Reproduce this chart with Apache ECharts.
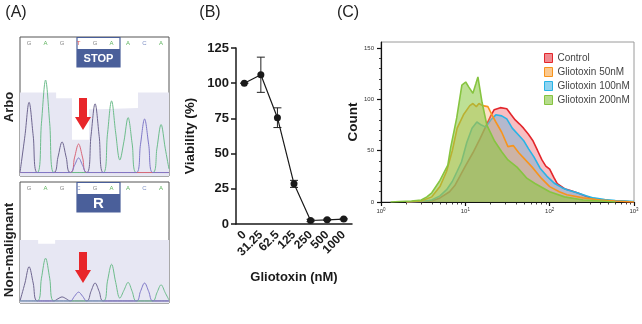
<!DOCTYPE html>
<html>
<head>
<meta charset="utf-8">
<script src="https://cdn.jsdelivr.net/npm/echarts@6/dist/echarts.min.js"></script>
<style>
  html, body { margin: 0; padding: 0; background: #fff; }
  #chart { width: 642px; height: 324px; }
</style>
</head>
<body>
<div id="chart"></div>
<script>
// ---------- panel A : sequencing traces (x = base index, y = signal) ----------
const topBases = ['G', 'A', 'G', 'T', 'G', 'A', 'A', 'C', 'A'];
const bottomBases = ['G', 'A', 'G', 'C', 'G', 'A', 'A', 'C', 'A'];
const baseColors = { G: '#8a8a8a', A: '#5fb35f', T: '#e05a5a', C: '#7d8fc4' };
const traceColors = { G: '#6e6690', A: '#6dbd8c', T: '#d9677a', C: '#7f78c8' };

const topQuality = [[-0.55, 60], [1.64, 56], [2.6, 26], [3.64, 48], [4.3, 49], [6.6, 60], [8.48, 60]];
const topG = [[-0.55, 2.5], [-0.25, 29], [0, 53], [0.25, 29], [0.5, 2.5], [1.5, 2.5], [1.75, 13.5], [2, 24.5], [2.25, 13.5], [2.5, 2.5], [3.5, 2.5], [3.75, 28.5], [4, 52], [4.25, 28.5], [4.5, 2.5], [8.48, 2.5]];
const topA = [[-0.55, 2.5], [0.5, 2.5], [0.75, 38], [1, 69], [1.25, 38], [1.5, 2.5], [4.5, 2.5], [4.75, 30], [5, 54], [5.25, 31], [5.5, 11.5], [5.75, 25], [6, 42], [6.25, 23], [6.5, 2.5], [7.5, 2.5], [7.75, 20], [8, 37], [8.25, 20], [8.48, 5]];
const topT = [[-0.55, 2.5], [2.5, 2.5], [2.75, 13], [3, 23], [3.25, 13], [3.5, 2.5], [8.48, 2.5]];
const topC = [[-0.55, 2.5], [2.5, 2.5], [2.75, 7.5], [3, 13], [3.25, 7.5], [3.5, 2.5], [6.5, 2.5], [6.75, 22.5], [7, 41], [7.25, 22.5], [7.5, 2.5], [8.48, 2.5]];

const bottomQuality = [[-0.55, 52], [0.55, 49], [1.58, 52], [8.48, 52]];
const bottomG = [[-0.55, 1.7], [-0.25, 16.5], [0, 30], [0.25, 16.5], [0.5, 1.7], [1.5, 1.7], [1.75, 3.5], [2, 5], [2.25, 3.5], [2.5, 1.7], [3.5, 1.7], [3.75, 9.5], [4, 16.5], [4.25, 9.5], [4.5, 1.7], [8.48, 1.7]];
const bottomA = [[-0.55, 1.7], [0.5, 1.7], [0.75, 20.5], [1, 37], [1.25, 20.5], [1.5, 1.7], [4.5, 1.7], [4.75, 18], [5, 32], [5.25, 17], [5.5, 4], [5.75, 10.5], [6, 17], [6.25, 9.5], [6.5, 1.7], [7.5, 1.7], [7.75, 8.5], [8, 15], [8.25, 8.5], [8.48, 2.5]];
const bottomC = [[-0.55, 1.7], [2.5, 1.7], [2.75, 5.5], [3, 9], [3.25, 5.5], [3.5, 1.7], [6.5, 1.7], [6.75, 9.5], [7, 16.5], [7.25, 9.5], [7.5, 1.7], [8.48, 1.7]];

// ---------- panel B : viability ----------
const doses = ['0', '31.25', '62.5', '125', '250', '500', '1000'];
const viability = [100, 106, 75.5, 28.5, 2.5, 3, 3.5];
const viabilityErr = [0, 12.5, 7, 2.5, 0.8, 0.5, 0.5];
const viabilityTicks = [0, 25, 50, 75, 100, 125];

// ---------- panel C : flow histograms (x = fluorescence, y = count) ----------
const control = [[2, 0], [3, 0.5], [4, 1], [5, 4], [6.5, 10], [7.5, 16], [8.6, 25], [10, 35], [12.3, 48], [15, 62], [18, 76], [20, 84], [22, 90], [26, 92], [31, 91], [35, 85], [39, 80], [44, 76], [49, 72], [56, 66], [63, 60], [72, 50], [81, 41], [90, 35], [100, 32], [112, 24], [123, 18], [150, 13], [180, 11], [212, 9], [260, 6], [330, 3], [450, 1.5], [650, 1], [1000, 0]];
const glio50 = [[2, 0], [3, 1], [4, 5], [5, 15], [6, 30], [7, 50], [8, 72], [9.5, 85], [11.3, 94], [12.3, 96], [13.5, 93], [14.5, 96], [16, 94], [18.5, 93], [20.7, 85], [23, 78], [27, 68], [32, 54], [37, 55], [43, 48], [49, 43], [62, 34], [80, 23], [100, 15], [130, 10], [160, 7], [250, 4], [400, 2], [600, 1], [1000, 0]];
const glio100 = [[2, 0], [3, 0.5], [4, 2], [5, 6], [6, 12], [7, 20], [8, 30], [9, 39], [10.4, 58], [12, 72], [13.7, 78], [15.5, 75], [17.5, 73], [20, 80], [23, 85], [27, 84], [31, 81], [36, 72], [42, 66], [49, 60], [56, 52], [65, 44], [77, 33], [93, 25], [115, 18], [140, 14], [160, 12], [212, 9], [270, 6], [330, 4], [450, 2.5], [600, 1.5], [800, 1], [1000, 0.5]];
const glio200 = [[1.3, 0], [1.66, 0.5], [2.3, 1], [3, 2], [3.5, 5], [4, 9], [5, 21], [6.2, 36], [6.7, 53], [7.9, 82], [9.1, 114], [10.1, 117], [11, 112], [12.3, 106], [13.3, 115], [14.1, 122], [15.8, 97], [18, 75], [22, 60], [27, 49], [32, 41], [41, 34], [54, 23], [67, 18], [100, 10], [150, 5], [250, 2], [400, 1], [600, 0]];
const countTicks = [0, 50, 100, 150];
const countMinorTicks = [10, 20, 30, 40, 60, 70, 80, 90, 110, 120, 130, 140];
const decadeTicks = [0, 1, 2, 3];
const minorFluor = [2, 3, 4, 5, 6, 7, 8, 9, 20, 30, 40, 50, 60, 70, 80, 90, 200, 300, 400, 500, 600, 700, 800, 900];

const FONT = '"Liberation Sans", Arial, sans-serif';
const chart = echarts.init(document.getElementById('chart'));

function trace(data, color, xi) {
  return {
    type: 'line', xAxisIndex: xi, yAxisIndex: xi, data: data, smooth: 0.35,
    symbol: 'none', silent: true, lineStyle: { color: color, width: 1 }, z: 3
  };
}
function quality(data, xi) {
  return {
    type: 'line', xAxisIndex: xi, yAxisIndex: xi, data: data, step: 'end',
    symbol: 'none', silent: true, lineStyle: { width: 0 },
    areaStyle: { color: '#e7e7f3', opacity: 1 }, z: 1
  };
}
function hist(name, data, line, fill, z) {
  return {
    name: name, type: 'line', xAxisIndex: 3, yAxisIndex: 3, data: data, z: z,
    symbol: 'none', silent: true, lineStyle: { color: line, width: 1.6 },
    itemStyle: { color: line }, areaStyle: { color: fill }
  };
}
function text(str, x, y, font, fill, extra) {
  return Object.assign({
    type: 'text', x: x, y: y, z: 100,
    style: { text: str, font: font, fill: fill, align: 'center', verticalAlign: 'middle' }
  }, extra || {});
}

const graphics = [];
topBases.forEach(function (b, i) {
  graphics.push(text(b, 29 + i * 16.5, 43, '6px ' + FONT, baseColors[b]));
});
bottomBases.forEach(function (b, i) {
  graphics.push(text(b, 29 + i * 16.5, 188, '6px ' + FONT, baseColors[b]));
});
// mutation boxes, arrows, panel letters
graphics.push(
  { type: 'rect', z: 99, shape: { x: 77, y: 37.5, width: 43, height: 29.5 }, style: { fill: 'rgba(255,255,255,0)', stroke: '#4a5f9a', lineWidth: 1.2 } },
  { type: 'rect', z: 99, shape: { x: 77, y: 49, width: 43, height: 18 }, style: { fill: '#4a5f9a' } },
  text('STOP', 98.5, 58.5, 'bold 11px ' + FONT, '#fff'),
  { type: 'rect', z: 99, shape: { x: 77, y: 182.5, width: 43, height: 29.5 }, style: { fill: 'rgba(255,255,255,0)', stroke: '#4a5f9a', lineWidth: 1.2 } },
  { type: 'rect', z: 99, shape: { x: 77, y: 194, width: 43, height: 18 }, style: { fill: '#4a5f9a' } },
  text('R', 98.5, 203.5, 'bold 15px ' + FONT, '#fff'),
  { type: 'polygon', z: 99, shape: { points: [[79, 98], [87, 98], [87, 117], [91, 117], [83, 130], [75, 117], [79, 117]] }, style: { fill: '#e8262a' } },
  { type: 'polygon', z: 99, shape: { points: [[79, 252], [87, 252], [87, 270], [91, 270], [83, 283], [75, 270], [79, 270]] }, style: { fill: '#e8262a' } },
  text('(A)', 16, 13, '16px ' + FONT, '#222'),
  text('(B)', 210, 13, '16px ' + FONT, '#222'),
  text('(C)', 348, 13, '16px ' + FONT, '#222'),
  text('Arbo', 9, 107, 'bold 13px ' + FONT, '#222', { rotation: Math.PI / 2 }),
  text('Non-malignant', 9, 250, 'bold 13.5px ' + FONT, '#222', { rotation: Math.PI / 2 })
);

const option = {
  animation: false,
  backgroundColor: '#fff',
  textStyle: { fontFamily: FONT },
  grid: [
    { left: 20, top: 37, width: 149, height: 139, show: true, borderColor: '#555', borderWidth: 1, backgroundColor: '#fff' },
    { left: 20, top: 182, width: 149, height: 121, show: true, borderColor: '#555', borderWidth: 1, backgroundColor: '#fff' },
    { left: 236, top: 48, width: 116, height: 176 },
    { left: 381, top: 42, width: 253, height: 160, show: true, borderColor: '#9a9a9a', borderWidth: 1, backgroundColor: '#fff' }
  ],
  xAxis: [
    { gridIndex: 0, type: 'value', min: -0.55, max: 8.48, show: false },
    { gridIndex: 1, type: 'value', min: -0.55, max: 8.48, show: false },
    {
      gridIndex: 2, type: 'category', data: doses,
      name: 'Gliotoxin (nM)', nameLocation: 'middle', nameGap: 47,
      nameTextStyle: { fontWeight: 'bold', fontSize: 13, color: '#1a1a1a' },
      axisLine: { lineStyle: { color: '#1a1a1a', width: 1.5 } },
      axisTick: { alignWithLabel: true, length: 5, lineStyle: { width: 1.5, color: '#1a1a1a' } },
      axisLabel: { rotate: 45, fontWeight: 'bold', fontSize: 12, color: '#1a1a1a', margin: 9, interval: 0 }
    },
    { gridIndex: 3, type: 'log', logBase: 10, min: 1, max: 1000, show: false },
    {
      gridIndex: 3, type: 'value', min: 0, max: 3, interval: 1, position: 'bottom',
      axisLine: { lineStyle: { color: '#111', width: 1.2 } },
      axisTick: { length: 4, lineStyle: { color: '#111', width: 1.2 } },
      splitLine: { show: false },
      axisLabel: {
        customValues: decadeTicks, margin: 5, color: '#333',
        formatter: function (v) { return '{a|10}{b|' + v + '}'; },
        rich: { a: { fontSize: 6, color: '#333' }, b: { fontSize: 4.5, color: '#333', padding: [0, 0, 4, 0] } }
      }
    },
    {
      gridIndex: 3, type: 'value', min: 0, max: 3, position: 'bottom',
      axisLine: { show: false }, axisLabel: { show: false }, splitLine: { show: false },
      axisTick: { customValues: minorFluor.map(function (v) { return Math.log10(v); }), length: 2.5, lineStyle: { color: '#111', width: 0.8 } }
    }
  ],
  yAxis: [
    { gridIndex: 0, type: 'value', min: 0, max: 100, show: false },
    { gridIndex: 1, type: 'value', min: 0, max: 100, show: false },
    {
      gridIndex: 2, type: 'value', min: 0, max: 125, interval: 25,
      name: 'Viability (%)', nameLocation: 'middle', nameGap: 39,
      nameTextStyle: { fontWeight: 'bold', fontSize: 13.5, color: '#1a1a1a' },
      axisLine: { show: true, lineStyle: { color: '#1a1a1a', width: 1.5 } },
      axisTick: { show: true, length: 5, lineStyle: { width: 1.5, color: '#1a1a1a' } },
      splitLine: { show: false },
      axisLabel: { customValues: viabilityTicks, fontWeight: 'bold', fontSize: 13, color: '#1a1a1a', margin: 7 }
    },
    {
      gridIndex: 3, type: 'value', min: 0, max: 156, interval: 50,
      name: 'Count', nameLocation: 'middle', nameGap: 21,
      nameTextStyle: { fontWeight: 'bold', fontSize: 13.5, color: '#1a1a1a' },
      axisLine: { show: true, lineStyle: { color: '#111', width: 1.2 } },
      axisTick: { show: true, customValues: countTicks, length: 4, lineStyle: { color: '#111', width: 1.2 } },
      splitLine: { show: false },
      axisLabel: { customValues: countTicks, fontSize: 6, color: '#333', margin: 7 }
    },
    {
      gridIndex: 3, type: 'value', min: 0, max: 156, position: 'left',
      axisLine: { show: false }, axisLabel: { show: false }, splitLine: { show: false },
      axisTick: { show: true, customValues: countMinorTicks, length: 2, lineStyle: { color: '#111', width: 0.8 } }
    }
  ],
  legend: {
    left: 539, top: 48, orient: 'vertical', selectedMode: false,
    icon: 'rect', itemWidth: 8, itemHeight: 9, itemGap: 4,
    textStyle: { fontSize: 10, color: '#444', fontFamily: FONT },
    data: [
      { name: 'Control', itemStyle: { color: '#f08a90', borderColor: '#e3262b', borderWidth: 1 } },
      { name: 'Gliotoxin 50nM', itemStyle: { color: '#fbc98f', borderColor: '#f7941d', borderWidth: 1 } },
      { name: 'Gliotoxin 100nM', itemStyle: { color: '#8fd3f0', borderColor: '#27b4e6', borderWidth: 1 } },
      { name: 'Gliotoxin 200nM', itemStyle: { color: '#b6dc8c', borderColor: '#86c440', borderWidth: 1 } }
    ]
  },
  graphic: { elements: graphics },
  series: [
    quality(topQuality, 0),
    trace(topG, traceColors.G, 0),
    trace(topA, traceColors.A, 0),
    trace(topT, traceColors.T, 0),
    trace(topC, traceColors.C, 0),
    quality(bottomQuality, 1),
    trace(bottomG, traceColors.G, 1),
    trace(bottomA, traceColors.A, 1),
    trace(bottomC, traceColors.C, 1),
    {
      type: 'custom', xAxisIndex: 2, yAxisIndex: 2, silent: true, z: 3,
      data: viability.map(function (v, i) { return [i, v - viabilityErr[i], v + viabilityErr[i]]; }),
      renderItem: function (params, api) {
        const lo = api.coord([api.value(0), api.value(1)]);
        const hi = api.coord([api.value(0), api.value(2)]);
        const cap = 4;
        const st = { stroke: '#222', lineWidth: 1 };
        return {
          type: 'group', children: [
            { type: 'line', shape: { x1: lo[0], y1: lo[1], x2: hi[0], y2: hi[1] }, style: st },
            { type: 'line', shape: { x1: lo[0] - cap, y1: lo[1], x2: lo[0] + cap, y2: lo[1] }, style: st },
            { type: 'line', shape: { x1: hi[0] - cap, y1: hi[1], x2: hi[0] + cap, y2: hi[1] }, style: st }
          ]
        };
      }
    },
    {
      type: 'line', xAxisIndex: 2, yAxisIndex: 2, data: viability, silent: true, z: 4,
      symbol: 'circle', symbolSize: 7, itemStyle: { color: '#1a1a1a' },
      lineStyle: { color: '#1a1a1a', width: 1.2 }
    },
    hist('Control', control, '#e3262b', 'rgba(236,86,96,0.55)', 2),
    hist('Gliotoxin 100nM', glio100, '#27b4e6', 'rgba(70,175,225,0.55)', 3),
    hist('Gliotoxin 50nM', glio50, '#f7941d', 'rgba(248,170,95,0.5)', 4),
    hist('Gliotoxin 200nM', glio200, '#86c440', 'rgba(138,200,66,0.8)', 5)
  ]
};
chart.setOption(option);
</script>
</body>
</html>
